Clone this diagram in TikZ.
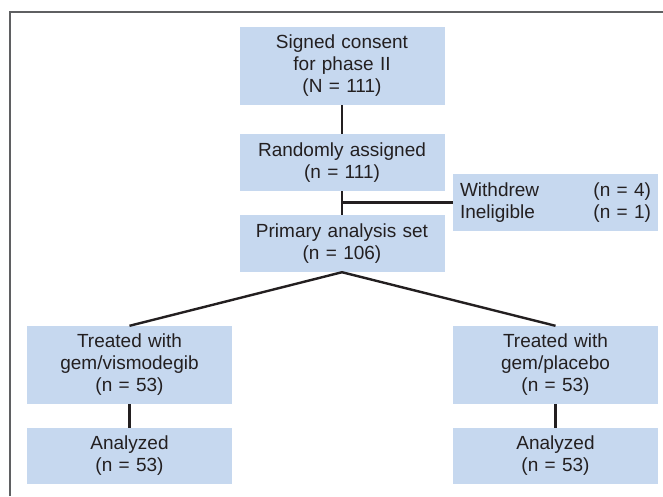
\documentclass[tikz,border=0pt]{standalone}
\usepackage{fontspec}
\setmainfont{Liberation Sans}
\usepackage{xcolor}
\definecolor{boxblue}{HTML}{C6D8EF}
\definecolor{ink}{HTML}{231F20}
\definecolor{framegray}{HTML}{5F6062}

\begin{document}
\begin{tikzpicture}[x=1pt,y=-1pt,
  box/.style={fill=boxblue, text=ink, inner xsep=4pt, inner ysep=0pt,
    text width=197pt, align=center, minimum height=57pt,
    font=\fontsize{19}{22}\selectfont},
  tallbox/.style={box, minimum height=78pt},
  link/.style={ink, line width=2.4pt}]

\useasboundingbox (0,0) rectangle (663,496);

  % Draw the frame
  \draw[framegray, line width=2pt] (10,496) -- (10,12) -- (663,12);

  % Place the boxes
  \node[tallbox] (consent) at (342,66) {Signed consent\\for phase II\\(N = 111)};
  \node[box] (random) at (342,162.5) {Randomly assigned\\(n = 111)};
  \node[box] (primary) at (342,243.5) {Primary analysis set\\(n = 106)};
  \node[box, inner xsep=7pt, text width=191pt, align=left] (excluded) at (555.5,202.5)
    {Withdrew\hfill(n = 4)\\Ineligible\hfill(n = 1)};
  \node[tallbox] (treatA) at (129.5,365) {Treated with\\gem/vismodegib\\(n = 53)};
  \node[tallbox] (treatB) at (555.5,365) {Treated with\\gem/placebo\\(n = 53)};
  \node[box, minimum height=56pt] (anaA) at (129.5,456) {Analyzed\\(n = 53)};
  \node[box, minimum height=56pt] (anaB) at (555.5,456) {Analyzed\\(n = 53)};

  \coordinate (split) at (random.south |- excluded.west);

  % Draw the links
  \draw[link] (consent) -- (random);
  \draw[link] (random) -- (primary);
  \draw[link] (split) -- (excluded.west);
  \draw[link] (primary.south) -- (treatA.north);
  \draw[link] (primary.south) -- (treatB.north);
  \draw[link] (treatA) -- (anaA);
  \draw[link] (treatB) -- (anaB);

\end{tikzpicture}
\end{document}
